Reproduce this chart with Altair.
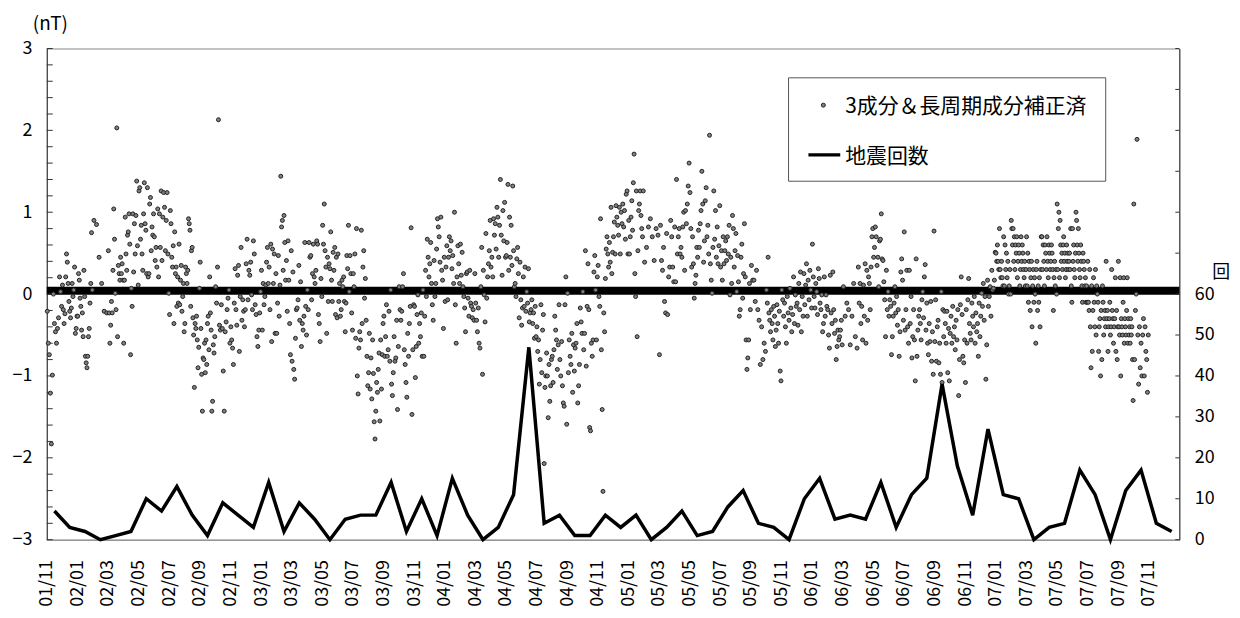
import altair as alt
import pandas as pd

FONT = "Noto Sans CJK JP"

# x-axis tick labels (every 2 months, starting 2001/11)
month_labels = ["01/11", "02/01", "02/03", "02/05", "02/07", "02/09", "02/11",
                "03/01", "03/03", "03/05", "03/07", "03/09", "03/11",
                "04/01", "04/03", "04/05", "04/07", "04/09", "04/11",
                "05/01", "05/03", "05/05", "05/07", "05/09", "05/11",
                "06/01", "06/03", "06/05", "06/07", "06/09", "06/11",
                "07/01", "07/03", "07/05", "07/07", "07/09", "07/11"]

# monthly earthquake counts, 2001/11 .. 2007/12
quake_counts = [7, 3,
                2, 0, 1, 2, 10, 7, 13, 6, 1, 9, 6, 3,
                14, 2, 9, 5, 0, 5, 6, 6, 14, 2, 10, 1,
                15, 6, 0, 3, 11, 47, 4, 6, 1, 1, 6, 3,
                6, 0, 3, 7, 1, 2, 8, 12, 4, 3, 0, 10,
                15, 5, 6, 5, 14, 3, 11, 15, 38, 18, 6, 27,
                11, 10, 0, 3, 4, 17, 11, 0, 12, 17, 4, 2]

# daily magnetic values (nT), one list per month
mag_2001 = [
    [-0.21, -0.6, -0.74, -1.21, -1.83, -0.99, 0.0, -0.36, -0.46, -0.6, -0.42, -0.29, 0.21, 0.03, -0.15],
    [0.11, -0.19, -0.36, -0.24, 0.21, 0.49, 0.39, 0.13, -0.09, -0.21, -0.29, -0.17, 0.13, -0.03, 0.05, 0.33, -0.48, -0.42, -0.27],
]
mag_2002 = [
    [-0.27, 0.25, 0.17, -0.05, -0.15, -0.44, -0.23, -0.52, 0.29, -0.03, -0.76, -0.84, -0.9, -0.76, -0.52, -0.42, -0.11, 0.13, 0.75, 0.05],
    [0.9, 0.85, 0.45, 0.13, -0.21, -0.23],
    [0.53, -0.23, -0.6, -0.38, -0.09, -0.23, 0.29, 1.04, 0.67, 0.01, -0.19, 2.03, -0.52, 0.35, 0.25, 0.17, 0.45, 0.25, 0.37, 0.17],
    [-0.6, 0.17, 0.94, 0.49, 0.29, 0.72, 0.76, 0.98, 0.61, -0.74, 0.07, -0.15, 0.98, 0.27, 0.86, 0.49, 0.96, 1.38, 0.59, 0.11],
    [1.26, 1.3, 0.67, 0.84, 0.49, 0.29, 0.98, 1.36, 0.86, 0.78, 0.25, 1.3, 0.21, 0.25, 1.1, 1.18, 0.53, 0.82, 0.72, 0.98],
    [0.7, 0.41, 0.57, 0.33, 1.04, 0.21, 0.98, 0.57, 1.26, 0.41, 0.94, 1.24, 1.06, 0.53, 0.9, 1.24, 0.49, 0.01],
    [-0.25, 1.02, 0.86, 0.45, 0.33, 0.59, -0.36, 0.76, 0.25, 0.33, -0.15, 0.21, -0.11, 0.61, -0.13, 0.17, 0.35, -0.21, -0.03, 0.13, -0.46],
    [-0.36, 0.33, 0.25, 0.13, 0.29, 0.92, 0.86, 0.78, -0.15, 0.53, 0.57, -0.29, -0.5, -1.14, -0.36, -0.42, -0.27, -0.56, -0.9, -0.65, 0.07],
    [0.39, -0.42, -0.98, -1.43, -0.78, -0.8, -0.6, -0.96, -0.56, -0.86, -0.36, -0.27, -0.68, 0.21, -0.23, -0.44, -1.43, -1.31, -0.62, -0.72, -0.52],
    [0.09, -0.11, 0.33, 2.13, -0.38, -0.44, -0.13, -0.42, -0.94, -1.43, -0.46, -0.34, -0.19, -0.05, 0.05, -0.6],
    [-0.4, -0.56, -0.66, -0.86, -0.11, 0.31, -0.19, -0.38, 0.23, 0.35, -0.7, -0.03, 0.57, -0.32, -0.07, -0.21, -0.4, -0.19],
    [0.37, 0.67, -0.07, 0.29, 0.23, 0.39, -0.01, -0.19, 0.65, 0.49, -0.13, -0.25, -0.52, -0.64, -0.44, -0.23, 0.03],
]
mag_2003 = [
    [0.29, -0.44, 0.13, -0.13, -0.03, 0.11, 0.39, 0.57, 0.13, 0.33, -0.19, 0.61, -0.58, 0.55, 0.13, 0.49, -0.48, 0.25],
    [-0.48, -0.11, 0.47, -0.27, 0.11, 1.44, 0.82, 0.9, 0.29, 0.96, 0.63, 0.17, 0.41, -0.21, 0.65, 0.17, -0.36, -0.74, 0.53],
    [-0.82, 0.27, -0.92, -1.04, -0.54, -0.19, -0.17, -0.07, 0.35, -0.32, 0.15, -0.64, -0.36, -0.44, -0.27, 0.63, -0.15, -0.5],
    [0.05, -0.19, 0.63, 0.45, 0.47, -0.07, 0.25, 0.61, 0.21, 0.13, 0.29, 0.65, 0.61, -0.25, -0.36, -0.58, 0.19, -0.03],
    [0.84, 0.61, 1.1, 0.53, 0.33, -0.48, 0.45, -0.09, 0.37, 0.31, 0.76, 0.17, -0.09, 0.51, 0.29, 0.57, -0.25, 0.45, -0.29],
    [0.49, -0.09, 0.13, -0.27, -0.19, 0.17, 0.09, 0.21, -0.09, -0.46, -0.11, 0.47, 0.31, 0.84, 0.03, 0.47, 0.25, -0.23, -0.44],
    [0.25, 0.09, 0.49, -0.54, 0.8, -1.0, -1.22, -0.66, -0.46, -0.56, 0.78, -0.36, 0.33, 0.53, -0.05, 0.19, -0.32, -0.76, -1.12],
    [-0.96, -0.48, -1.16, -0.78, -1.28, -0.56, -0.97, -1.56, -1.77, -1.43, -1.08, -1.2, -0.92, -0.72, -1.55, -0.56, -1.16, -0.74, -0.36],
    [-0.27, -0.76, -0.52, -0.13, -0.76, -0.68, -0.21, -0.82, 0.05, -1.1, -1.24, -0.96, -0.52, -0.82, -0.78, -0.32, -1.41, -0.64],
    [0.09, -0.19, -0.32, -0.21, 0.09, 0.25, -0.68, -0.86, -1.08, -1.26, -0.48, -0.76, -0.36, -0.15, 0.81, -1.47, -0.68, -0.13],
    [-0.15, -1.02, -0.64, -0.25, -0.01, -0.6, -0.36, -0.52, -0.23, -0.76, 0.05, -0.76, -0.27, 0.29, -0.03, 0.67, 0.45, 0.21],
    [0.37, 0.63, 0.13, -0.13, -0.32, 0.41, -0.03, 0.13, 0.55, 0.92, 0.82, 0.7, 0.39, 0.94, 0.29, 0.17, -0.42, 0.45],
]
mag_2004 = [
    [-0.09, 0.33, 0.59, -0.07, 0.45, 0.7, 0.53, 0.65, 0.31, 0.47, 0.13, 1.0, -0.13, -0.6, 0.21, 0.59, 0.37, 0.13],
    [0.61, 0.23, 0.51, 0.09, -0.03, -0.17, -0.46, 0.25, 0.27, -0.05, -0.27, 0.29, -0.11, -0.15, -0.29, -0.19, -0.32, 0.25],
    [-0.11, -0.32, -0.46, -0.17, -0.6, -0.66, 0.09, 0.57, -0.98, 0.29, -0.01, -0.34, 0.74, -0.05, 0.21, 0.37, 0.53, 0.9],
    [0.33, 0.45, 0.21, 0.92, 0.72, 0.86, 0.55, 1.06, 0.94, 0.45, 0.84, 1.4, 0.72, 0.23, 1.02, 0.65, 1.12, 0.45],
    [0.47, 0.63, 1.34, 0.29, 0.94, 0.45, 0.84, 0.35, 1.32, 0.53, 0.09, 0.13, -0.03, 0.43, 0.57, 0.25, -0.29, 0.39, -0.07],
    [-0.38, -0.17, 0.21, -0.15, 0.33, -0.21, 0.03, -0.11, 0.31, -0.34, -0.23, -0.19, -0.07, -0.36, -0.23, -0.54, -0.15, -0.52],
    [-0.4, -0.7, -0.56, -1.1, -0.8, -0.13, -0.96, -0.44, -0.25, -2.07, -1.14, -1.0, -0.72, -1.0, -1.51, -0.86, -1.31, -1.12, -0.8],
    [-0.76, -1.08, -0.68, -0.27, -0.44, -0.56, -0.92, -0.62, -0.13, -0.8, -1.0, -0.58, -1.12, -1.33, -1.37, -0.13, 0.21, -1.59],
    [0.01, -0.96, -0.56, -0.76, -0.86, -0.48, -1.2, -0.62, -0.94, -0.66, -0.6, -0.36, -1.33, -1.12, -0.86, -0.17, -0.34, -0.48],
    [0.03, -0.68, -0.48, 0.53, -0.88, -0.15, 0.37, -0.19, -1.63, -1.67, -0.6, -0.76, -0.56, 0.27, 0.47, 0.05, -0.56, 0.21],
    [0.35, -0.03, -0.15, 0.92, -0.68, -1.41, -2.41, -0.23, -0.46, 0.19, 0.55, 0.7, 0.49, 0.33, 0.63, 0.39, 1.06, 0.25, 0.51],
    [0.7, 0.88, 0.49, 1.08, 0.94, 0.84, 0.72, 1.06, 0.49, 1.0, 0.86, 1.1, 0.82, 1.02, 0.67, 1.22, 1.26, 0.49],
]
mag_2005 = [
    [0.9, 0.49, 0.7, 0.94, 1.14, 0.78, 1.36, 1.71, 0.25, -0.03, 1.26, -0.52, 0.53, 1.02, 1.1, 1.26, 0.96, 0.8, 0.7, 1.26],
    [0.39, 0.57, 0.82, 0.92, 0.7, 0.41, 0.8, 0.72],
    [-0.74, 0.84, 0.41, 0.29, 0.57, -0.09, -0.23, 0.74, -0.25, 0.21, 0.33, 0.9, 0.7, 0.33, 0.15],
    [0.82, 0.15, 1.4, 0.49, 0.7, 0.8, 0.49, 0.57, 0.45, 0.82, 1.0, 0.29, 1.02, 0.86, 1.1, 1.32, 1.6],
    [1.24, 0.8, 0.33, 0.7, 0.37, -0.05, 0.13, 0.23, 0.57, 0.45, 0.78, 0.57, 0.86, 1.02, 1.5, 1.1, 0.39, 0.65],
    [1.14, 1.3, 0.7, 0.84, 0.49, 1.94, 0.37, 0.17, 0.01, 0.57, 1.26, 0.67, 1.02, 0.45, 0.82, 0.37, 0.59, 1.08],
    [0.33, 0.53, 0.17, 0.7, 0.37, 0.53, 0.65, 0.41, 0.7, 0.49, 0.84, -0.01, 0.45, 0.13, 0.96, 0.8, 0.33, 0.53],
    [0.74, 0.03, 0.47, 0.15, -0.27, -0.19, 0.45, 0.61, -0.05, 0.25, 0.86, 0.21, -0.56, -0.92, -0.78, -0.56, 0.13, -0.19],
    [0.35, 0.17, 0.17, -0.09, 0.29, -0.19, -0.32, -0.86, -0.4, -0.8, -0.6, -0.7],
    [0.05, -0.11, 0.45, -0.23, -0.32, -0.46, -0.19, -0.36, -0.56, -0.15, -0.27, -0.64, -0.44, -0.13, -0.36, -0.6, -0.21, -0.94, -1.06],
    [0.05, -0.07, -0.27, -0.11, -0.4, -0.6, -0.03, -0.23, -0.32, 0.07, -0.17, -0.46, -0.25, 0.21, -0.36, -0.01, -0.15],
    [-0.11, -0.38, 0.13, -0.19, 0.27, -0.46, -0.03, -0.27, 0.25, -0.13, 0.11, 0.37, -0.27, 0.17, -0.07, 0.29, 0.05, -0.17],
]
mag_2006 = [
    [0.61, 0.21, -0.03, -0.17, 0.13, 0.03, -0.25, 0.31, 0.19, -0.11, -0.19, -0.01, -0.46, -0.36, 0.21, -0.27, -0.01, -0.15],
    [-0.19, -0.5, -0.66, 0.23, -0.23, -0.36, 0.27, -0.19, -0.48, -0.32, -0.8, -0.64, -0.44, -0.56, -0.52, -0.44, -0.32, -0.62],
    [0.09, -0.27, -0.11, -0.19, -0.62, -0.27, 0.13, -0.52, -0.66],
    [0.33, -0.11, 0.13, -0.36, -0.15, -0.56, 0.11, -0.27, 0.37, -0.6, 0.29, -0.32, 0.21, 0.13, -0.19, 0.33, 0.7, 0.8],
    [0.45, 0.57, 0.82, 0.7, 0.35, 0.45, 0.09, 0.65, 0.67, 0.98, 0.43, 0.41, 0.15, -0.07, -0.52, 0.29, -0.19, 0.03],
    [-0.27, -0.07, -0.15, -0.74, -0.52, -0.27, -0.11, 0.09, -0.23, -0.03, -0.38, -0.19, -0.76, -0.46, 0.27, 0.43, 0.17, -0.32],
    [0.76, -0.44, -0.19, 0.29, -0.4, -0.6, 0.29, -0.36, -0.03, -0.78, -0.52, -0.19, -0.56, -1.06, 0.43, -0.76, -0.44, -0.27],
    [-0.19, -0.36, -0.56, -0.07, 0.03, -0.29, 0.21, 0.36, -0.44, -0.11, -0.6, -0.74, -0.36, -0.58, -0.09, -0.82, -0.46, -0.98, 0.77],
    [-0.58, -0.07, -0.82, -0.4, -0.32, -0.84, -0.6, -0.98, 0.03, -1.08, -0.19, -0.52, -0.21, -0.36, -0.6, -0.21, -0.96, -0.42, -1.06],
    [-0.48, -0.27, -0.6, -0.15, -0.52, -0.4, -0.68, -0.32, -0.56, -0.19, -1.24, -0.8, -0.13, 0.21, -0.25, -0.76, -0.84, -0.56],
    [-1.08, -0.19, -0.6, -0.07, 0.19, -0.36, -0.48, -0.56, -0.11, -0.27, -0.4, -0.03, -0.6, -0.23, -0.46, -0.36, -0.76, -0.11, -0.52],
    [-0.27, 0.01, -0.15, 0.13, -0.32, -0.03, -1.04, -0.62, 0.17, -0.15, -0.03, 0.09, -0.27, 0.29, 0.05, 0.07, 0.17, 0.51],
]
mag_2007 = [
    [0.5, 0.4, 0.6, 0.4, 0.3, 0.8, 0.3, 0.2, 0.4, 0.2, 0.1, 0.7, 0.1, 0.6, 0.3, 0.5, 0.2, 0.4, 0.0, 0.1, 0.3, 0.0],
    [0.9, 0.8, 0.6, 0.8, 0.4, 0.7, 0.3, 0.6, 0.5, 0.7, 0.2, 0.4, 0.6, 0.5, 0.1, 0.3, 0.7, 0.4, 0.6, 0.5, 0.3, 0.2, 0.4, 0.1, 0.3],
    [0.7, 0.1, 0.5, -0.1, 0.4, 0.3, -0.2, 0.2, 0.4, -0.4, 0.1, 0.3, -0.1, 0.2, 0.0, -0.6, 0.3, 0.4, -0.2, 0.1, -0.1, 0.2, -0.4, 0.3, 0.7],
    [0.7, 0.3, 0.6, 0.4, 0.1, 0.6, 0.5, 0.3, 0.7, 0.4, 0.2, 0.6, 0.5, 0.3, 0.4, 0.6, 0.5, 0.3, -0.2, 0.2, 0.4, 0.1, 0.3, 0.0],
    [1.1, 0.3, 0.8, 1.0, 0.2, 0.9, 0.6, 0.4, 0.5, 0.3, 0.6, 0.7, 0.4, 0.5, 0.2, 0.3, 0.6, 0.4, 0.5, 0.3, 0.4, 0.5, 0.3, 0.8, 0.1, -0.1],
    [0.8, 0.4, 0.6, 0.3, 0.2, 0.5, 1.0, 0.9, 0.6, 0.4, 0.8, 0.5, 0.3, 0.2, 0.6, 0.4, 0.1, -0.1, 0.5, 0.4, 0.3, 0.1, 0.2, -0.1, 0.1, -0.1],
    [0.4, -0.1, -0.2, 0.3, -0.4, -0.9, 0.1, -0.7, -0.2, 0.2, -0.1, -0.4, 0.3, -0.5, 0.1, 0.0, -0.1, -0.7, -0.4, -0.3, -1.0, -0.2, -0.8, 0.1],
    [-0.1, -0.5, -0.3, -0.2, -0.4, 0.4, -0.3, -0.2, -0.7, -0.4, -0.3, -0.1, -0.5, -0.4, 0.3, -0.2, -0.3, -0.6, -0.4, -0.3, 0.2, -0.7, -0.2, -0.8, -0.4],
    [0.4, -0.4, -0.5, 0.2, -1.0, -0.3, -0.4, -0.5, -0.1, 0.2, -0.6, -0.3, -0.4, -0.5, -0.2, 0.2, -0.6, -0.3, -0.5, -0.4, -0.6, -0.3, -0.5, -0.4, -0.8, -1.3],
    [1.1, -0.8, -0.2, 0.0, 1.89, -0.5, -1.1, -0.4, -0.9, -0.6, -1.0, -0.5, -0.3, -1.0, -0.4, -0.7, -0.8, -1.2, -0.5],
    [],
    [],
]

band_level = [0.04]                       # thick black band near zero
y_ticks_left = [round(-3 + 0.2 * i, 1) for i in range(31)]
y_ticks_right = list(range(0, 130, 10))
left_labels = [-3, -2, -1, 0, 1, 2, 3]
right_labels = [0, 10, 20, 30, 40, 50, 60]

W, H = 1139, 494

# ---- tables
months = mag_2001 + mag_2002 + mag_2003 + mag_2004 + mag_2005 + mag_2006 + mag_2007
rows = []
for mi, vals in enumerate(months):
    n = len(vals)
    for k, v in enumerate(vals):
        rows.append({"m": mi + (k + 0.5) / n, "v": v})
df_pts = pd.DataFrame(rows)
df_q = pd.DataFrame({"m": [i + 0.5 for i in range(len(quake_counts))], "c": quake_counts})
df_tl = pd.DataFrame({"t": y_ticks_left})
df_tr = pd.DataFrame({"t": y_ticks_right})
one = pd.DataFrame({"a": [0]})

label_expr = "[" + ",".join("'%s'" % s for s in month_labels) + "][round(datum.value / 2)]"

x_scale = alt.Scale(domain=[0, 74], nice=False, zero=False)
y_scale = alt.Scale(domain=[-3, 3], nice=False, zero=False)
c_scale = alt.Scale(domain=[0, 120], nice=False, zero=False)

x_axis = alt.Axis(values=list(range(0, 73, 2)), labelExpr=label_expr, labelAngle=270,
                  ticks=False, grid=False, domainColor="#888", labelPadding=20,
                  labelFlush=False, labelOverlap=False, title=None,
                  labelFont=FONT, labelFontSize=18, labelColor="black")
y_axis = alt.Axis(values=left_labels, format="d", ticks=False, grid=False,
                  domainColor="#333", labelPadding=15, title=None,
                  labelFlush=False, labelOverlap=False,
                  labelFont=FONT, labelFontSize=18, labelColor="black")
c_axis = alt.Axis(values=right_labels, format="d", ticks=False, grid=False, orient="right",
                  domainColor="#333", labelPadding=15, title=None,
                  labelFlush=False, labelOverlap=False,
                  labelFont=FONT, labelFontSize=18, labelColor="black")

DOT_FILL, DOT_STROKE = "#808080", "#222222"

band = alt.Chart(pd.DataFrame({"b": band_level})).mark_rule(color="black", strokeWidth=8).encode(
    x=alt.value(0), x2=alt.value(W),
    y=alt.Y("b:Q", scale=y_scale, axis=y_axis))

ticks_l = alt.Chart(df_tl).mark_rule(color="#333", strokeWidth=1).encode(
    y=alt.Y("t:Q", scale=y_scale, axis=y_axis), x=alt.value(0), x2=alt.value(6))

points = alt.Chart(df_pts).mark_point(filled=True, size=16, fill=DOT_FILL, stroke=DOT_STROKE,
                                       strokeWidth=1, opacity=1).encode(
    x=alt.X("m:Q", scale=x_scale, axis=x_axis),
    y=alt.Y("v:Q", scale=y_scale, axis=y_axis))

unit_title = alt.Chart(one).mark_text(text="(nT)", font=FONT, fontSize=19, align="left",
                                      baseline="middle", color="black").encode(
    x=alt.value(-14), y=alt.value(-25))

leg_box = alt.Chart(one).mark_rect(fill="white", stroke="#555", strokeWidth=1).encode(
    x=alt.value(746), x2=alt.value(1065), y=alt.value(29.5), y2=alt.value(133.5))
leg_dot = alt.Chart(one).mark_point(filled=True, size=16, fill=DOT_FILL, stroke=DOT_STROKE,
                                    strokeWidth=1, opacity=1).encode(
    x=alt.value(781), y=alt.value(57))
leg_txt1 = alt.Chart(one).mark_text(text="3成分＆長周期成分補正済", font=FONT, fontSize=21,
                                    align="left", baseline="middle", color="black").encode(
    x=alt.value(803), y=alt.value(58.5))
leg_line = alt.Chart(one).mark_rule(color="black", strokeWidth=3.5).encode(
    x=alt.value(766), x2=alt.value(798), y=alt.value(107))
leg_txt2 = alt.Chart(one).mark_text(text="地震回数", font=FONT, fontSize=21,
                                    align="left", baseline="middle", color="black").encode(
    x=alt.value(803), y=alt.value(109))

left_layer = alt.layer(band, ticks_l, points, unit_title, leg_box, leg_dot, leg_txt1, leg_line, leg_txt2)

quake = alt.Chart(df_q).mark_line(color="black", strokeWidth=3.5, strokeJoin="miter").encode(
    x=alt.X("m:Q", scale=x_scale, axis=x_axis),
    y=alt.Y("c:Q", scale=c_scale, axis=c_axis))
ticks_r = alt.Chart(df_tr).mark_rule(color="#333", strokeWidth=1).encode(
    y=alt.Y("t:Q", scale=c_scale, axis=c_axis), x=alt.value(W - 4), x2=alt.value(W))
kai = alt.Chart(one).mark_text(text="回", font=FONT, fontSize=18, align="center",
                               baseline="middle", color="black").encode(
    x=alt.value(W + 42), y=alt.value(226))

right_layer = alt.layer(quake, ticks_r, kai)

chart = alt.layer(left_layer, right_layer).resolve_scale(y="independent").properties(
    width=W, height=H,
    padding={"left": 39, "top": 39, "right": 53, "bottom": 70},
    autosize=alt.AutoSizeParams(type="none"),
    background="white",
).configure_view(stroke="#888", strokeWidth=1)

chart.save("out.html", embed_options={"renderer": "svg", "actions": False})
